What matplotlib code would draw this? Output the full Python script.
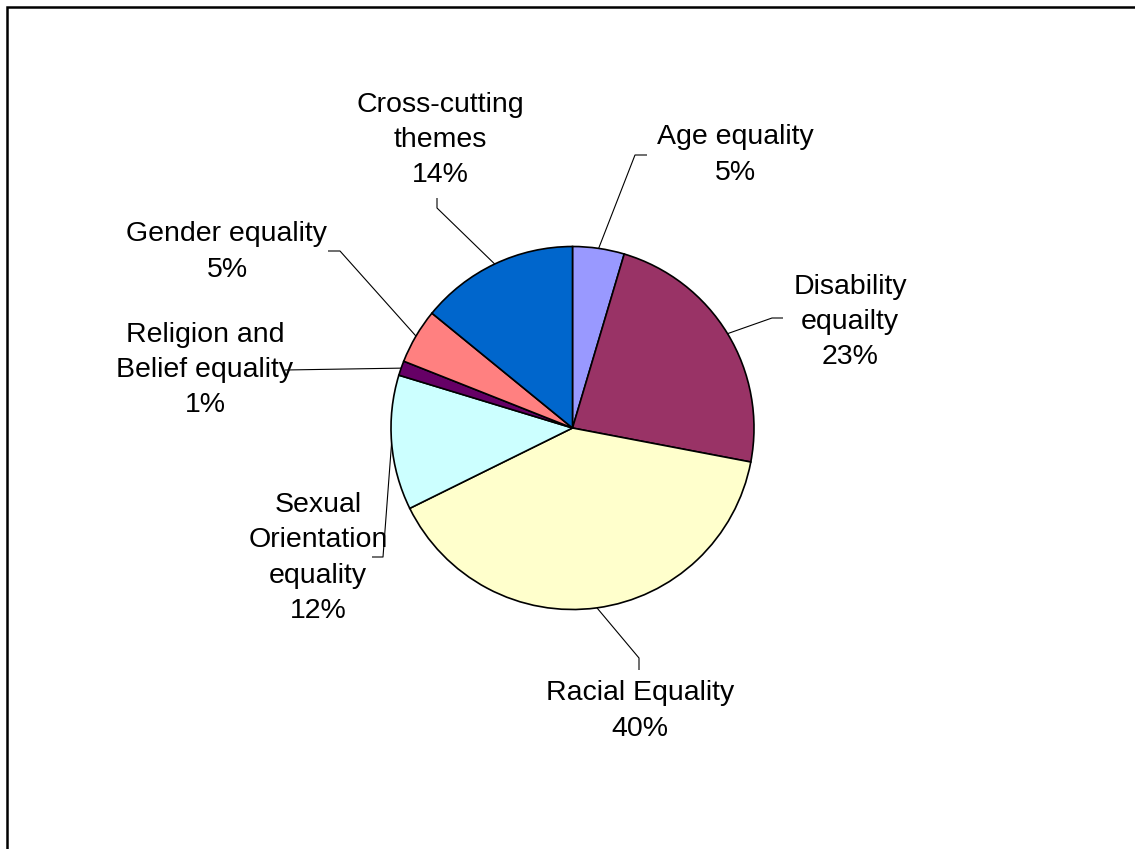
import numpy as np
import matplotlib
matplotlib.use('Agg')
import matplotlib.pyplot as plt
from matplotlib.patches import Rectangle

plt.rcParams['font.family'] = ['Liberation Sans', 'DejaVu Sans']

# data
categories = ["Age equality", "Disability\nequailty", "Racial Equality",
              "Sexual\nOrientation\nequality", "Religion and\nBelief equality",
              "Gender equality", "Cross-cutting\nthemes"]
shares = [4.6, 23.4, 39.7, 12.0, 1.3, 4.9, 14.1]
colors = ["#9999FF", "#993366", "#FFFFCC", "#CCFFFF", "#660066", "#FF8080", "#0066CC"]

W, H = 1135, 849
CX, CY, R = 572.5, 428, 181.5

# label layout in pixels (y from top): text centre, elbow, line end
label_pos = [(735, 155), (850, 322), (640, 711), (318, 558), (205, 370), (227, 252), (440, 140)]
elbows = [(635, 155), (772, 318), (639, 658), (383, 557), (285, 370), (340, 251), (437, 208)]
ends = [(647, 155), (783, 318), (639, 670), (372, 557), (285, 370), (328, 251), (437, 198)]


def fy(y):
    return H - y


fig = plt.figure(figsize=(W / 100, H / 100), dpi=100)
fig.patch.set_facecolor("white")
ax = fig.add_axes([0, 0, 1, 1])

wedges, _ = ax.pie(shares, colors=colors, startangle=90, counterclock=False,
                   center=(CX, fy(CY)), radius=R,
                   wedgeprops=dict(edgecolor="black", linewidth=1.2))
# pie() resets the limits, so set the pixel frame afterwards
ax.set_xlim(0, W)
ax.set_ylim(0, H)
ax.set_aspect("equal")
ax.axis("off")

for w, cat, val, (tx, ty), (ex, ey), (lx, ly) in zip(wedges, categories, shares,
                                                      label_pos, elbows, ends):
    mid = np.deg2rad((w.theta1 + w.theta2) / 2)
    axp = CX + R * np.cos(mid)
    ayp = fy(CY) + R * np.sin(mid)
    ax.plot([axp, ex, lx], [ayp, fy(ey), fy(ly)], color="black", lw=0.8,
            solid_capstyle="butt", zorder=0)
    ax.text(tx, fy(ty), f"{cat}\n{round(val):.0f}%", ha="center", va="center",
            multialignment="center", fontsize=20.5, linespacing=1.47, color="black")

# outer chart border (runs off the right and bottom edges)
fig.add_artist(Rectangle((7 / W, -0.05), 1.1, 1 - 7 / H + 0.05, transform=fig.transFigure,
                         fill=False, edgecolor="black", linewidth=1.8))

plt.savefig("out.png", dpi=100, facecolor="white")
plt.close()
